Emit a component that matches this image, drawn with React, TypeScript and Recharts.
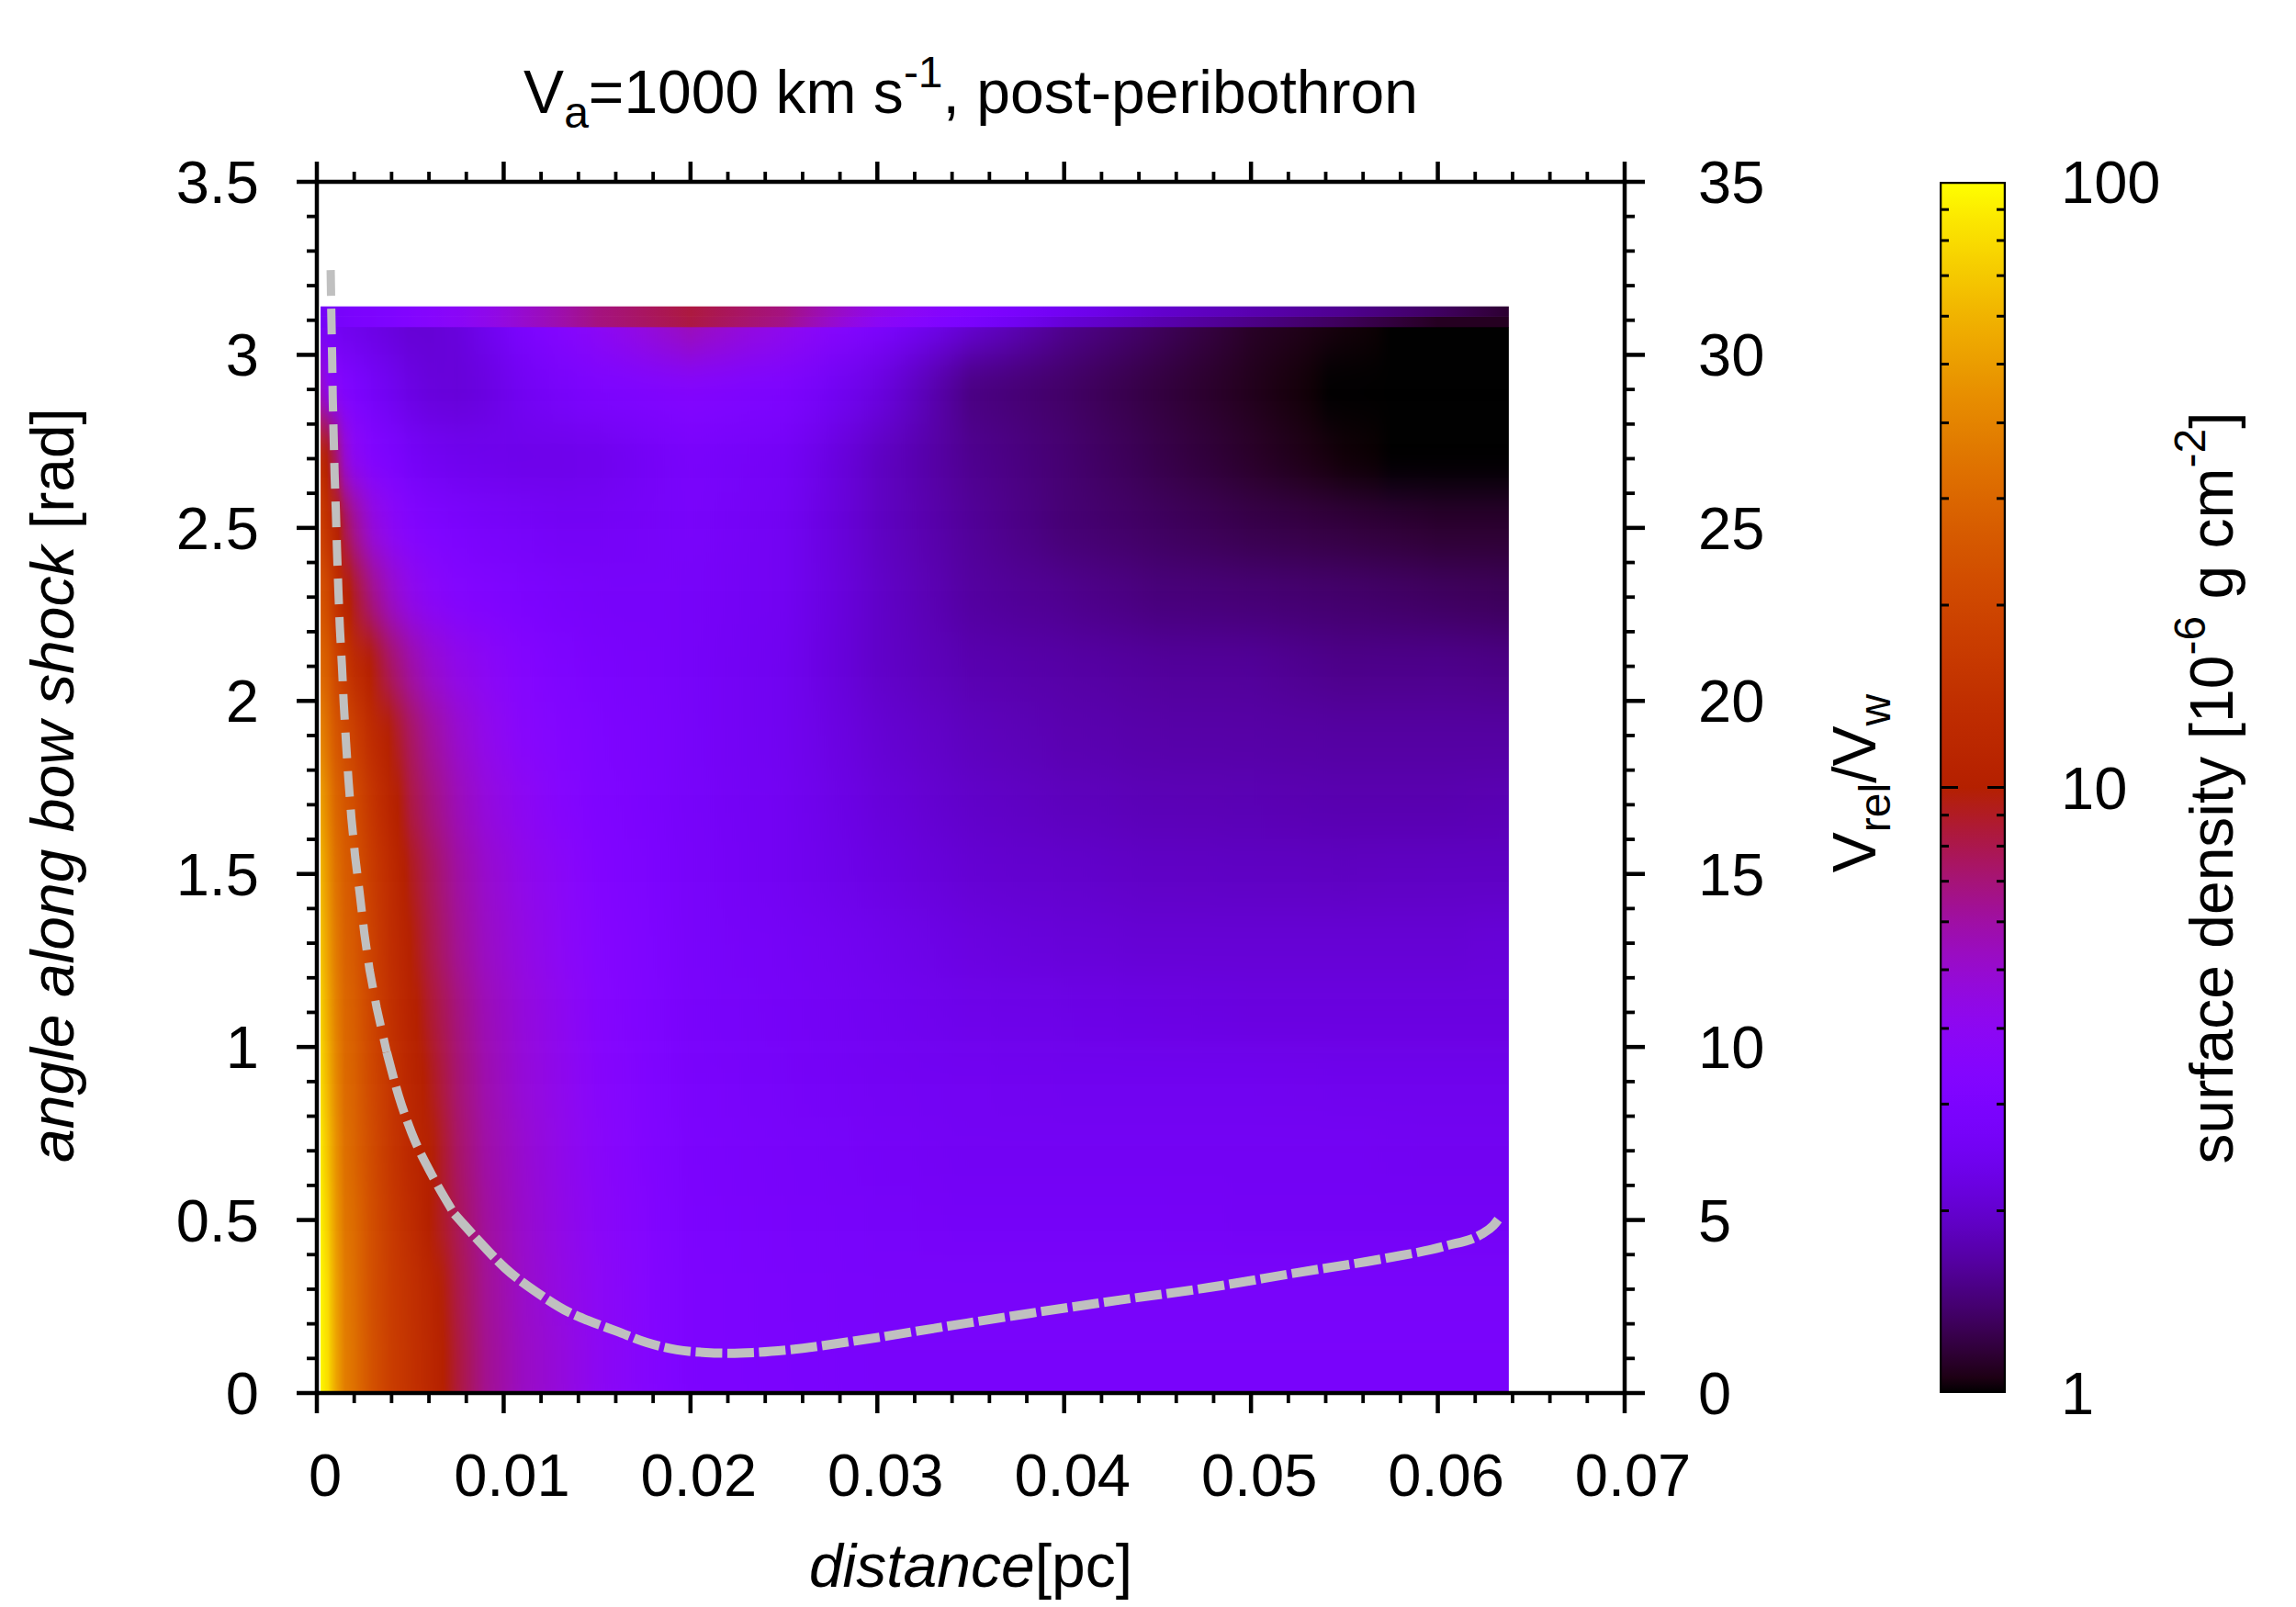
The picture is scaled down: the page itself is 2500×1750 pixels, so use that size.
import React from 'react';
import { ComposedChart, Scatter, Line, XAxis, YAxis } from 'recharts';

// ---- axis ticks ----
const xMajorTicks = [0, 0.01, 0.02, 0.03, 0.04, 0.05, 0.06, 0.07];
const xMinorTicks = [0.002, 0.004, 0.006, 0.008, 0.012, 0.014, 0.016, 0.018, 0.022, 0.024, 0.026, 0.028, 0.032, 0.034, 0.036, 0.038, 0.042, 0.044, 0.046, 0.048, 0.052, 0.054, 0.056, 0.058, 0.062, 0.064, 0.066, 0.068];
const yMajorTicks = [0, 0.5, 1, 1.5, 2, 2.5, 3, 3.5];
const yMinorTicks = [0.1, 0.2, 0.3, 0.4, 0.6, 0.7, 0.8, 0.9, 1.1, 1.2, 1.3, 1.4, 1.6, 1.7, 1.8, 1.9, 2.1, 2.2, 2.3, 2.4, 2.6, 2.7, 2.8, 2.9, 3.1, 3.2, 3.3, 3.4];
const rightMajorTicks = [0, 5, 10, 15, 20, 25, 30, 35];
const rightMinorTicks = [1, 2, 3, 4, 6, 7, 8, 9, 11, 12, 13, 14, 16, 17, 18, 19, 21, 22, 23, 24, 26, 27, 28, 29, 31, 32, 33, 34];
const colorMajorTicks = [1, 10, 100];
const colorMinorTicks = [2, 3, 4, 5, 6, 7, 8, 9, 20, 30, 40, 50, 60, 70, 80, 90];

// ---- surface density field ----
const xColumns = [0.0002, 0.0006, 0.001, 0.0015, 0.002, 0.003, 0.004, 0.005, 0.006, 0.0075, 0.009, 0.011, 0.013, 0.015, 0.02, 0.025, 0.03, 0.035, 0.04, 0.045, 0.05, 0.055, 0.06, 0.0638];
const rowCenters = [0.1, 0.3, 0.5, 0.7, 0.9, 1.1, 1.3, 1.5, 1.7, 1.9, 2.1, 2.3, 2.5, 2.7, 2.9, 3.04];
const rowEdges = [-0.3, 0.2, 0.4, 0.6, 0.8, 1.0, 1.2, 1.4, 1.6, 1.8, 2.0, 2.2, 2.4, 2.6, 2.8, 3.0, 3.4];
const row01 = [95, 80, 55, 38, 33, 23, 17.5, 14.5, 12, 8.5, 6.5, 5.3, 4.7, 4, 3.0, 2.9, 2.8, 2.8, 2.8, 2.8, 2.8, 2.8, 2.8, 2.8];
const row03 = [95, 78, 53, 37, 32, 22, 17, 14, 11.5, 8.2, 6.4, 5.2, 4.5, 3.9, 3, 2.85, 2.75, 2.75, 2.75, 2.75, 2.75, 2.75, 2.75, 2.75];
const row05 = [92, 72, 50, 35, 31, 22, 16.5, 13, 10, 7.8, 6.2, 5.1, 4.4, 3.8, 2.95, 2.8, 2.7, 2.65, 2.65, 2.65, 2.6, 2.6, 2.6, 2.6];
const row07 = [88, 66, 47, 33, 29, 21, 15.5, 12, 10.3, 7.5, 6, 5, 4.3, 3.7, 2.9, 2.75, 2.65, 2.55, 2.55, 2.55, 2.55, 2.55, 2.5, 2.5];
const row09 = [80, 60, 43, 31, 28, 20, 15, 11.5, 9.5, 7.2, 5.8, 4.8, 4.2, 3.6, 2.85, 2.7, 2.55, 2.5, 2.45, 2.45, 2.45, 2.4, 2.4, 2.4];
const row11 = [75, 55, 40, 30, 27, 19, 14, 10.8, 8.8, 6.9, 5.6, 4.7, 4.1, 3.5, 2.8, 2.65, 2.5, 2.35, 2.3, 2.25, 2.2, 2.2, 2.2, 2.2];
const row13 = [68, 50, 37, 28, 25, 18, 13, 10, 8.2, 6.4, 5.3, 4.5, 3.9, 3.4, 2.75, 2.6, 2.4, 2.2, 2.1, 2.05, 2.05, 2.05, 2.05, 2.1];
const row15 = [62, 46, 34, 27, 24, 17, 12.5, 9.3, 7.8, 6.1, 5.1, 4.3, 3.8, 3.3, 2.75, 2.5, 2.25, 2.05, 1.98, 1.92, 1.9, 1.88, 1.9, 1.9];
const row17 = [52, 40, 30, 25, 22, 15, 11, 8.3, 7, 5.6, 4.7, 4.0, 3.5, 3.15, 2.72, 2.5, 2.15, 1.95, 1.85, 1.8, 1.78, 1.75, 1.75, 1.78];
const row19 = [40, 32, 25, 21, 18, 12.5, 9.6, 7.6, 6.3, 5.1, 4.3, 3.6, 3.3, 3.05, 2.7, 2.45, 2.05, 1.85, 1.75, 1.7, 1.68, 1.65, 1.65, 1.65];
const row21 = [30, 26, 20, 16, 13, 9.6, 7.4, 6, 5.1, 4.3, 3.9, 3.4, 3.1, 2.9, 2.7, 2.45, 1.95, 1.75, 1.68, 1.62, 1.6, 1.52, 1.53, 1.5];
const row23 = [24, 20, 15, 11, 9, 6.6, 5.2, 4.3, 3.8, 3.4, 3.2, 3.0, 2.85, 2.75, 2.7, 2.5, 1.95, 1.65, 1.55, 1.45, 1.42, 1.38, 1.33, 1.3];
const row25 = [18, 14, 11, 8, 6.5, 4.7, 3.9, 3.4, 3.15, 2.95, 2.8, 2.7, 2.6, 2.6, 2.75, 2.5, 1.9, 1.6, 1.42, 1.33, 1.25, 1.2, 1.15, 1.15];
const row27 = [13, 9.5, 7.5, 5, 4.0, 3.3, 3.0, 2.7, 2.55, 2.45, 2.4, 2.35, 2.35, 2.4, 2.8, 2.6, 1.9, 1.55, 1.4, 1.25, 1.13, 1.02, 0.98, 0.97];
const row29 = [5.2, 4.0, 3.6, 3.2, 3.0, 2.65, 2.45, 2.25, 2.15, 2.1, 2.2, 2.5, 2.75, 3.0, 3.3, 3.0, 2.2, 1.48, 1.35, 1.2, 1.08, 0.98, 0.9, 0.9];
const row304 = [2.7, 2.6, 2.5, 2.4, 2.35, 2.25, 2.15, 2.05, 2.05, 2.15, 2.4, 2.9, 3.4, 3.9, 5.6, 4.2, 3.0, 2.05, 1.55, 1.32, 1.12, 1.03, 0.97, 0.97];
const rowBandLower = [2.6, 2.7, 2.75, 2.8, 2.9, 3.0, 3.1, 3.3, 3.5, 3.8, 4.2, 5, 5.8, 6.8, 8.2, 6.6, 3.9, 2.9, 2.1, 1.75, 1.5, 1.3, 1.1, 1.1];
const rowBandUpper = [2.6, 2.7, 2.75, 2.8, 2.9, 3.0, 3.1, 3.3, 3.5, 3.8, 4.2, 5, 5.8, 6.8, 8.3, 6.8, 4.3, 3.2, 2.5, 2.0, 1.75, 1.55, 1.33, 1.15];
const densityRows = [row01, row03, row05, row07, row09, row11, row13, row15, row17, row19, row21, row23, row25, row27, row29, row304];
const bandRows = [rowBandLower, rowBandUpper];
const bandCenters = [3.095, 3.125];
const bandEdges = [3.08, 3.11, 3.14];

// ---- Vrel/Vw curve ----
const steepDistance = [0.00074, 0.00077, 0.00082, 0.00085, 0.0009, 0.00095, 0.00102, 0.00108, 0.00115, 0.00123, 0.00134, 0.00144, 0.00156, 0.00169, 0.00185, 0.00205, 0.0023, 0.00254, 0.00282, 0.0032, 0.00374];
const steepVrel = [32.45, 31.34, 29.88, 28.76, 27.65, 26.56, 25.45, 24.33, 23.22, 22.13, 21.04, 19.93, 18.81, 17.73, 16.61, 15.5, 14.41, 13.29, 12.23, 11.14, 9.85];
const kneeDistance = [0.00374, 0.00439, 0.00508, 0.00614, 0.00737];
const kneeVrel = [9.85, 8.57, 7.51, 6.32, 5.17];
const flatDistance = [0.00737, 0.00852, 0.01008, 0.01188, 0.01347, 0.0145, 0.01608, 0.01766, 0.01927, 0.02084, 0.0221, 0.02335, 0.02527, 0.02861, 0.03352, 0.03824, 0.04301, 0.04776, 0.0525, 0.05727, 0.06041, 0.06233, 0.06297, 0.06327];
const flatVrel = [5.17, 4.48, 3.61, 2.87, 2.34, 2.1, 1.78, 1.46, 1.25, 1.17, 1.15, 1.17, 1.25, 1.49, 1.91, 2.31, 2.69, 3.05, 3.48, 3.9, 4.25, 4.59, 4.84, 5.04];

// ---- layout ----
const W = 2500;
const H = 1750;
const PL = 345, PR = 1769, PT = 198, PB = 1517;
const PXX = (PR - PL) / 0.07;
const PXY = (PB - PT) / 3.5;
const FONT = '"Liberation Sans", Arial, sans-serif';
const FS = 66;
const TICK_FS = 65;
const TICK_MAJOR = 22;
const TICK_MINOR = 11;

const palette = (v: number) => {
  const g = Math.max(0, Math.min(1, Math.log10(Math.max(v, 1)) / 2));
  const r = Math.sqrt(g);
  const gr = g * g * g;
  const b = Math.max(0, Math.sin(2 * Math.PI * g));
  const c = (t: number) => Math.round(t * 255);
  return `rgb(${c(r)},${c(gr)},${c(b)})`;
};

const rowStops = (vals: number[]) => {
  const x0 = xColumns[0];
  const span = xColumns[xColumns.length - 1] - x0;
  const out: React.ReactElement[] = [];
  for (let i = 0; i < vals.length - 1; i++) {
    const sub = 6;
    for (let k = 0; k < sub; k++) {
      const t = k / sub;
      const x = xColumns[i] + (xColumns[i + 1] - xColumns[i]) * t;
      const lv = Math.log10(vals[i]) + (Math.log10(vals[i + 1]) - Math.log10(vals[i])) * t;
      out.push(<stop key={`${i}-${k}`} offset={(x - x0) / span} stopColor={palette(Math.pow(10, lv))} />);
    }
  }
  out.push(<stop key="end" offset={1} stopColor={palette(vals[vals.length - 1])} />);
  return out;
};

const heatData = rowCenters.map((y, i) => ({ x: xColumns[0], y, lo: rowEdges[i], hi: rowEdges[i + 1], grad: `row-${i}` }));
const bandData = bandCenters.map((y, i) => ({ x: xColumns[0], y, lo: bandEdges[i], hi: bandEdges[i + 1], grad: `band-${i}` }));
const toCurve = (xs: number[], ys: number[]) => xs.map((x, i) => ({ x, vrel: ys[i] }));
const colorBarData = [{ x: 0, y: 100 }];

const CellRow = (props: any) => {
  const { cx, cy, payload } = props;
  const w = (xColumns[xColumns.length - 1] - xColumns[0]) * PXX;
  return <rect x={cx} y={cy - (payload.hi - payload.y) * PXY} width={w} height={(payload.hi - payload.lo) * PXY} fill={`url(#${payload.grad})`} />;
};

const fmt = (v: number) => String(v);
const textProps = { fontFamily: FONT, fontSize: FS, fill: '#000' };
const tickText = { fontFamily: FONT, fontSize: TICK_FS, fill: '#000' };

const XTick = (side: 'bottom' | 'top') => (props: any) => {
  const { x, payload } = props;
  const major = xMajorTicks.includes(payload.value);
  const len = major ? TICK_MAJOR : TICK_MINOR;
  const sw = major ? 4.5 : 3.8;
  if (side === 'top') return <line x1={x} x2={x} y1={PT} y2={PT - len} stroke="#000" strokeWidth={sw} />;
  return (
    <g>
      <line x1={x} x2={x} y1={PB} y2={PB + len} stroke="#000" strokeWidth={sw} />
      {major ? <text x={x + 9} y={PB + 112} textAnchor="middle" {...tickText}>{fmt(payload.value)}</text> : null}
    </g>
  );
};

const YTick = (props: any) => {
  const { y, payload } = props;
  const major = yMajorTicks.includes(payload.value);
  return (
    <g>
      <line x1={PL} x2={PL - (major ? TICK_MAJOR : TICK_MINOR)} y1={y} y2={y} stroke="#000" strokeWidth={major ? 4.5 : 3.8} />
      {major ? <text x={282} y={y + 23} textAnchor="end" {...tickText}>{fmt(payload.value)}</text> : null}
    </g>
  );
};

const RightTick = (props: any) => {
  const { y, payload } = props;
  const major = rightMajorTicks.includes(payload.value);
  return (
    <g>
      <line x1={PR} x2={PR + (major ? TICK_MAJOR : TICK_MINOR)} y1={y} y2={y} stroke="#000" strokeWidth={major ? 4.5 : 3.8} />
      {major ? <text x={1849} y={y + 23} textAnchor="start" {...tickText}>{fmt(payload.value)}</text> : null}
    </g>
  );
};

const CB_L = 2112, CB_R = 2184;
const ColorTick = (props: any) => {
  const { y, payload } = props;
  const major = colorMajorTicks.includes(payload.value);
  const edge = payload.value === 1 || payload.value === 100;
  const len = major ? 20 : 10;
  return (
    <g>
      {edge ? null : <line x1={CB_L} x2={CB_L + len} y1={y} y2={y} stroke="#000" strokeWidth={3} />}
      {edge ? null : <line x1={CB_R} x2={CB_R - len} y1={y} y2={y} stroke="#000" strokeWidth={3} />}
      {major ? <text x={2244} y={y + 23} textAnchor="start" {...tickText}>{fmt(payload.value)}</text> : null}
    </g>
  );
};

const ColorBarRect = (props: any) => {
  const { cx, cy } = props;
  return <rect x={cx} y={cy} width={CB_R - CB_L} height={PB - PT} fill="url(#colorBarFill)" stroke="#000" strokeWidth={4.5} />;
};

const colorBarStops = Array.from({ length: 81 }, (_, i) => i / 80);

const sub = { fontSize: 48 };
const layer: React.CSSProperties = { position: 'absolute', left: 0, top: 0 };
const frameLine = { stroke: '#000', strokeWidth: 4.5 };
const curveStyle = { yAxisId: 'right', dataKey: 'vrel', stroke: '#c0c0c0', dot: false, activeDot: false, legendType: 'none' as const, isAnimationActive: false };

export default function App() {
  return (
    <div style={{ position: 'absolute', left: 0, top: 0, width: W, height: H, background: '#fff' }}>
      <style>{`.heat-field{filter:url(#heatBlur);clip-path:url(#heatClip);}`}</style>
      {/* density field, underneath everything */}
      <div style={layer}>
        <ComposedChart width={W} height={H} margin={{ top: PT, left: PL, right: W - PR, bottom: H - PB }}>
          <defs>
            {densityRows.map((r, i) => (
              <linearGradient key={i} id={`row-${i}`} x1="0" x2="1" y1="0" y2="0">{rowStops(r)}</linearGradient>
            ))}
            {bandRows.map((r, i) => (
              <linearGradient key={i} id={`band-${i}`} x1="0" x2="1" y1="0" y2="0">{rowStops(r)}</linearGradient>
            ))}
            <filter id="heatBlur" filterUnits="userSpaceOnUse" x={PL} y={200} width={1400} height={1500} colorInterpolationFilters="sRGB">
              <feGaussianBlur stdDeviation="0 24" />
            </filter>
            <clipPath id="heatClip" clipPathUnits="userSpaceOnUse">
              <rect x={349} y={356} width={1294} height={PB - 356} />
            </clipPath>
          </defs>
          <XAxis type="number" dataKey="x" domain={[0, 0.07]} allowDataOverflow hide />
          <YAxis type="number" dataKey="y" domain={[0, 3.5]} allowDataOverflow hide />
          <Scatter className="heat-field" data={heatData} dataKey="y" shape={CellRow} isAnimationActive={false} />
          <Scatter data={bandData} dataKey="y" shape={CellRow} isAnimationActive={false} />
        </ComposedChart>
      </div>
      {/* colour bar */}
      <div style={layer}>
        <ComposedChart width={W} height={H} margin={{ top: PT, left: CB_L, right: W - CB_R, bottom: H - PB }}>
          <defs>
            <linearGradient id="colorBarFill" x1="0" x2="0" y1="0" y2="1">
              {colorBarStops.map((t, i) => (
                <stop key={i} offset={t} stopColor={palette(Math.pow(10, 2 * (1 - t)))} />
              ))}
            </linearGradient>
          </defs>
          <XAxis type="number" dataKey="x" domain={[0, 1]} allowDataOverflow hide />
          <YAxis type="number" dataKey="y" scale="log" domain={[1, 100]} allowDataOverflow hide />
          <Scatter data={colorBarData} dataKey="y" shape={ColorBarRect} isAnimationActive={false} />
        </ComposedChart>
      </div>
      <div style={layer}>
        <ComposedChart width={W} height={H} margin={{ top: PT, left: CB_L - 1, right: W - CB_R, bottom: H - PB }}>
          <XAxis type="number" domain={[0, 1]} hide />
          <YAxis type="number" scale="log" domain={[1, 100]} allowDataOverflow ticks={[...colorMajorTicks, ...colorMinorTicks]} interval={0} width={1} tickSize={0} tickMargin={0} tickLine={false} axisLine={false} tick={ColorTick} orientation="left" />
        </ComposedChart>
      </div>
      {/* axes, curve and labels */}
      <div style={layer}>
        <ComposedChart width={W} height={H} margin={{ top: PT - 1, left: PL - 1, right: W - PR - 1, bottom: H - PB - 1 }}>
          <XAxis xAxisId={0} type="number" dataKey="x" domain={[0, 0.07]} allowDataOverflow ticks={[...xMajorTicks, ...xMinorTicks]} interval={0} height={1} tickSize={0} tickMargin={0} tickLine={false} axisLine={frameLine} tick={XTick('bottom')} orientation="bottom" />
          <XAxis xAxisId="top" type="number" dataKey="x" domain={[0, 0.07]} allowDataOverflow ticks={[...xMajorTicks, ...xMinorTicks]} interval={0} height={1} tickSize={0} tickMargin={0} tickLine={false} axisLine={frameLine} tick={XTick('top')} orientation="top" />
          <YAxis yAxisId="left" type="number" domain={[0, 3.5]} allowDataOverflow ticks={[...yMajorTicks, ...yMinorTicks]} interval={0} width={1} tickSize={0} tickMargin={0} tickLine={false} axisLine={frameLine} tick={YTick} orientation="left" />
          <YAxis yAxisId="right" type="number" domain={[0, 35]} allowDataOverflow ticks={[...rightMajorTicks, ...rightMinorTicks]} interval={0} width={1} tickSize={0} tickMargin={0} tickLine={false} axisLine={frameLine} tick={RightTick} orientation="right" />
          <Line {...curveStyle} type="linear" data={toCurve(steepDistance, steepVrel)} strokeWidth={9} strokeDasharray="28 14" />
          <Line {...curveStyle} type="monotone" data={toCurve(kneeDistance, kneeVrel)} strokeWidth={9.5} strokeDasharray="30 9" />
          <Line {...curveStyle} type="monotone" data={toCurve(flatDistance, flatVrel)} strokeWidth={10} strokeDasharray="29 5.5" />
          <text x={1057} y={123} textAnchor="middle" {...textProps}>
            V<tspan {...sub} dy={16}>a</tspan><tspan dy={-16}>=1000 km s</tspan><tspan {...sub} dy={-28}>-1</tspan><tspan dy={28}>, post-peribothron</tspan>
          </text>
          <text x={1057} y={1728} textAnchor="middle" {...textProps}>
            <tspan fontStyle="italic">distance</tspan>[pc]
          </text>
          <text transform="translate(80,855) rotate(-90)" textAnchor="middle" {...textProps}>
            <tspan fontStyle="italic">angle along bow shock</tspan> [rad]
          </text>
          <text transform="translate(2042,853) rotate(-90)" textAnchor="middle" {...textProps}>
            V<tspan {...sub} dy={16}>rel</tspan><tspan dy={-16}>/V</tspan><tspan {...sub} dy={16}>w</tspan>
          </text>
          <text transform="translate(2431,858) rotate(-90)" textAnchor="middle" {...textProps}>
            surface density [10<tspan {...sub} dy={-30}>-6</tspan><tspan dy={30}> g cm</tspan><tspan {...sub} dy={-30}>-2</tspan><tspan dy={30}>]</tspan>
          </text>
        </ComposedChart>
      </div>
    </div>
  );
}
